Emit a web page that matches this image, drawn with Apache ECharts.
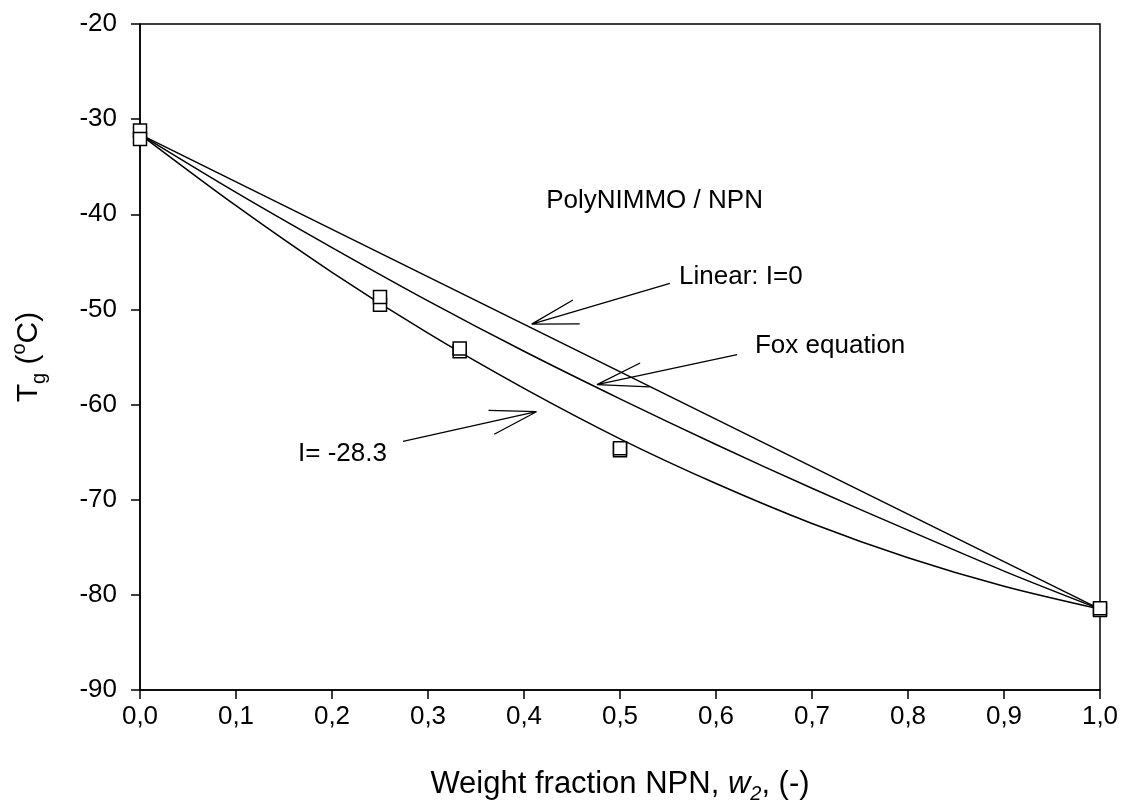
<!DOCTYPE html>
<html>
<head>
<meta charset="utf-8">
<script src="https://cdn.jsdelivr.net/npm/echarts@6/dist/echarts.min.js"></script>
<style>
html,body{margin:0;padding:0;background:#fff;}
#chart{width:1122px;height:809px;}
</style>
</head>
<body>
<div id="chart"></div>
<script>
// ---- data ----
const xTicks = [0, 0.1, 0.2, 0.3, 0.4, 0.5, 0.6, 0.7, 0.8, 0.9, 1.0];
const curveW = [0, 0.1, 0.2, 0.3, 0.4, 0.5, 0.6, 0.7, 0.8, 0.9, 1.0];
const foxTg = [-31.6, -37.7, -43.5, -49.1, -54.4, -59.4, -64.2, -68.8, -73.2, -77.5, -81.5];
const kweiTg = [-31.6, -39.1, -46.1, -52.5, -58.3, -63.6, -68.3, -72.5, -76.1, -79.1, -81.5];
const linearW = [0, 1];
const linearTg = [-31.6, -81.5];
const expW = [0, 0, 0.25, 0.25, 0.333, 0.333, 0.5, 0.5, 1.0, 1.0];
const expTg = [-31.2, -32.1, -49.5, -48.7, -54.4, -54.1, -64.8, -64.6, -81.6, -81.4];

// annotation texts (anchor in data units)
const labelTexts = ['PolyNIMMO / NPN', 'Linear: I=0', 'Fox equation', 'I= -28.3'];
const labelAnchors = [[0.536, -38.6], [0.5615, -46.54], [0.6406, -53.85], [0.1646, -65.14]];
const labelAlign = ['center', 'left', 'left', 'left'];

// arrows: tail, tip, head1, tip, head2 (data units)
const arrowLinear = [[0.552, -47.27], [0.408, -51.55], [0.451, -49.01], [0.408, -51.55], [0.458, -51.52]];
const arrowFox = [[0.622, -54.76], [0.476, -57.90], [0.521, -55.63], [0.476, -57.90], [0.531, -58.14]];
const arrowKwei = [[0.274, -63.88], [0.413, -60.75], [0.363, -60.61], [0.413, -60.75], [0.369, -63.12]];

const FONT = "'Liberation Sans', Arial, sans-serif";
const zip = (a, b) => a.map((v, i) => [v, b[i]]);

const chart = echarts.init(document.getElementById('chart'), null, {renderer: 'canvas'});

const lineStyle = {color: '#000', width: 1.5};
const arrowStyle = {color: '#000', width: 1.3};

const option = {
  backgroundColor: '#fff',
  animation: false,
  grid: {left: 140, top: 24, width: 960, height: 670, show: true, borderColor: '#000', borderWidth: 1.5, backgroundColor: 'transparent'},
  xAxis: {
    type: 'value', min: 0, max: 1, interval: 0.1,
    axisLine: {show: true, onZero: false, lineStyle: {color: '#000', width: 1.5}},
    axisTick: {show: true, inside: false, length: 9, lineStyle: {color: '#000', width: 1.5}},
    splitLine: {show: false},
    axisLabel: {color: '#000', fontSize: 26, fontFamily: FONT, margin: 14,
      formatter: v => v.toFixed(1).replace('.', ',')},
    name: '{n|Weight fraction NPN, }{i|w}{s|2}{n|, (-)}',
    nameLocation: 'middle', nameGap: 94,
    nameTextStyle: {
      color: '#000', fontFamily: FONT, fontSize: 31, verticalAlign: 'middle',
      rich: {
        n: {fontSize: 31, fontFamily: FONT, color: '#000', lineHeight: 40},
        i: {fontSize: 31, fontFamily: FONT, color: '#000', fontStyle: 'italic', lineHeight: 40},
        s: {fontSize: 20, fontFamily: FONT, color: '#000', fontStyle: 'italic', lineHeight: 22, verticalAlign: 'bottom'}
      }
    }
  },
  yAxis: {
    type: 'value', min: -90, max: -20, interval: 10,
    axisLine: {show: true, onZero: false, lineStyle: {color: '#000', width: 1.5}},
    axisTick: {show: true, inside: false, length: 9, lineStyle: {color: '#000', width: 1.5}},
    splitLine: {show: false},
    axisLabel: {color: '#000', fontSize: 26, fontFamily: FONT, margin: 23},
    name: '{n|T}{s|g}{n| (}{u|o}{n|C)}',
    nameLocation: 'middle', nameGap: 111,
    nameTextStyle: {
      color: '#000', fontFamily: FONT, fontSize: 30, verticalAlign: 'middle',
      rich: {
        n: {fontSize: 30, fontFamily: FONT, color: '#000', lineHeight: 40},
        s: {fontSize: 20, fontFamily: FONT, color: '#000', lineHeight: 22, verticalAlign: 'bottom'},
        u: {fontSize: 20, fontFamily: FONT, color: '#000', lineHeight: 22, verticalAlign: 'top'}
      }
    }
  },
  series: [
    {name: 'Linear', type: 'line', data: zip(linearW, linearTg), symbol: 'none', lineStyle: lineStyle, silent: true, z: 2},
    {name: 'Fox', type: 'line', data: zip(curveW, foxTg), symbol: 'none', smooth: 0.3, lineStyle: lineStyle, silent: true, z: 2},
    {name: 'I=-28.3', type: 'line', data: zip(curveW, kweiTg), symbol: 'none', smooth: 0.3, lineStyle: lineStyle, silent: true, z: 2},
    {name: 'arrowLinear', type: 'line', data: arrowLinear, symbol: 'none', lineStyle: arrowStyle, silent: true, z: 2},
    {name: 'arrowFox', type: 'line', data: arrowFox, symbol: 'none', lineStyle: arrowStyle, silent: true, z: 2},
    {name: 'arrowKwei', type: 'line', data: arrowKwei, symbol: 'none', lineStyle: arrowStyle, silent: true, z: 2},
    {name: 'Experimental', type: 'scatter', data: zip(expW, expTg), symbol: 'rect', symbolSize: 13,
      itemStyle: {color: '#fff', borderColor: '#000', borderWidth: 1.5, opacity: 1}, silent: true, z: 5}
  ]
};
chart.setOption(option);

// annotation texts placed through the axes' own scales
chart.setOption({
  graphic: labelAnchors.map((p, i) => {
    const px = chart.convertToPixel({gridIndex: 0}, p);
    return {
      type: 'text', x: px[0], y: px[1], z: 10, silent: true,
      style: {text: labelTexts[i], fill: '#000', font: '26px ' + FONT,
        align: labelAlign[i], verticalAlign: 'middle'}
    };
  })
});
</script>
</body>
</html>
